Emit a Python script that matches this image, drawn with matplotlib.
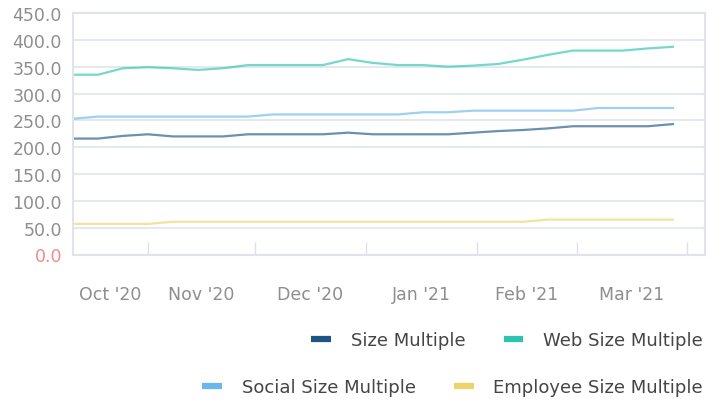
import matplotlib
matplotlib.use("Agg")
import matplotlib.pyplot as plt
from matplotlib.lines import Line2D
import pandas as pd

plt.rcParams['font.family'] = ['DejaVu Sans']

dates = ["2020-10-11", "2020-10-18", "2020-10-25", "2020-11-01", "2020-11-08",
         "2020-11-15", "2020-11-22", "2020-11-29", "2020-12-06", "2020-12-13",
         "2020-12-20", "2020-12-27", "2021-01-03", "2021-01-10", "2021-01-17",
         "2021-01-24", "2021-01-31", "2021-02-07", "2021-02-14", "2021-02-21",
         "2021-02-28", "2021-03-07", "2021-03-14", "2021-03-21", "2021-03-28"]

size_multiple = [216, 216, 221, 224, 220, 220, 220, 224, 224, 224,
                 224, 227, 224, 224, 224, 224, 227, 230, 232, 235,
                 239, 239, 239, 239, 243]
web_size_multiple = [335, 335, 347, 349, 347, 344, 347, 353, 353, 353,
                     353, 364, 357, 353, 353, 350, 352, 355, 363, 372,
                     380, 380, 380, 384, 387]
social_size_multiple = [253, 257, 257, 257, 257, 257, 257, 257, 261, 261,
                        261, 261, 261, 261, 265, 265, 268, 268, 268, 268,
                        268, 273, 273, 273, 273]
employee_size_multiple = [57, 57, 57, 57, 61, 61, 61, 61, 61, 61,
                          61, 61, 61, 61, 61, 61, 61, 61, 61, 65,
                          65, 65, 65, 65, 65]

series_names = ["Size Multiple", "Web Size Multiple",
                "Social Size Multiple", "Employee Size Multiple"]
month_labels = ["Oct '20", "Nov '20", "Dec '20", "Jan '21", "Feb '21", "Mar '21"]
y_ticks = [0, 50, 100, 150, 200, 250, 300, 350, 400, 450]

colors = {"Size Multiple": "#1d5585", "Web Size Multiple": "#2bc4b0",
          "Social Size Multiple": "#6ab7ec", "Employee Size Multiple": "#ecd36b"}

x = pd.to_datetime(dates)
values = {"Size Multiple": size_multiple, "Web Size Multiple": web_size_multiple,
          "Social Size Multiple": social_size_multiple,
          "Employee Size Multiple": employee_size_multiple}

fig = plt.figure(figsize=(7.23, 4.02), dpi=100)
ax = fig.add_axes([73 / 723, 1 - 255.5 / 402, (704.5 - 73) / 723, (255.5 - 14) / 402])

# grid
for yv in y_ticks:
    ax.axhline(yv, color="#e5e8ee", lw=1.5, zorder=0)

draw_order = ["Employee Size Multiple", "Size Multiple", "Social Size Multiple", "Web Size Multiple"]
for name in draw_order:
    ax.plot(x, values[name], color=colors[name], lw=1.6, alpha=0.65, zorder=2)

x_left = pd.Timestamp("2020-10-11")
x_right = pd.Timestamp("2021-04-05 20:00")
ax.set_xlim(x_left, x_right)
ax.set_ylim(0, 450)

# month boundary ticks
bounds = pd.to_datetime(["2020-11-01", "2020-12-01", "2021-01-01", "2021-02-01",
                         "2021-03-01", "2021-04-01"])
ax.set_xticks(bounds)
ax.set_xticklabels([""] * len(bounds))
ax.tick_params(axis="x", which="major", direction="in", length=9.5, width=1,
               color="#dde2ea")
# labels centred within visible month spans
starts = [x_left] + list(bounds[:-1])
ends = list(bounds)
mids = [s + (e - s) / 2 for s, e in zip(starts, ends)]
ax.set_xticks(mids, minor=True)
ax.set_xticklabels(month_labels, minor=True)
ax.tick_params(axis="x", which="minor", length=0, pad=22, labelsize=12.5,
               labelcolor="#8e8e8e")

ax.set_yticks(y_ticks)
ax.set_yticklabels([f"{v:.1f}" for v in y_ticks])
ax.tick_params(axis="y", length=0, pad=8, labelsize=12.5, labelcolor="#8e8e8e")
ax.get_yticklabels()[0].set_color("#f28b8b")

for side in ["left", "right", "top", "bottom"]:
    ax.spines[side].set_color("#e0e4ea")
    ax.spines[side].set_linewidth(1.5)

def handle(name):
    return Line2D([0], [0], color=colors[name], lw=4.5, solid_capstyle="butt")

leg_kw = dict(loc="center right", frameon=False, ncol=2, fontsize=13,
              handlelength=1.1, handletextpad=1.1, columnspacing=2.1,
              borderpad=0, borderaxespad=0, labelcolor="#454545")
leg1 = fig.legend([handle(series_names[0]), handle(series_names[1])],
                  series_names[0:2], bbox_to_anchor=(703 / 723, 1 - 341 / 402), **leg_kw)
leg2 = fig.legend([handle(series_names[2]), handle(series_names[3])],
                  series_names[2:4], bbox_to_anchor=(703 / 723, 1 - 388 / 402), **leg_kw)

fig.savefig("out.png", dpi=100)
